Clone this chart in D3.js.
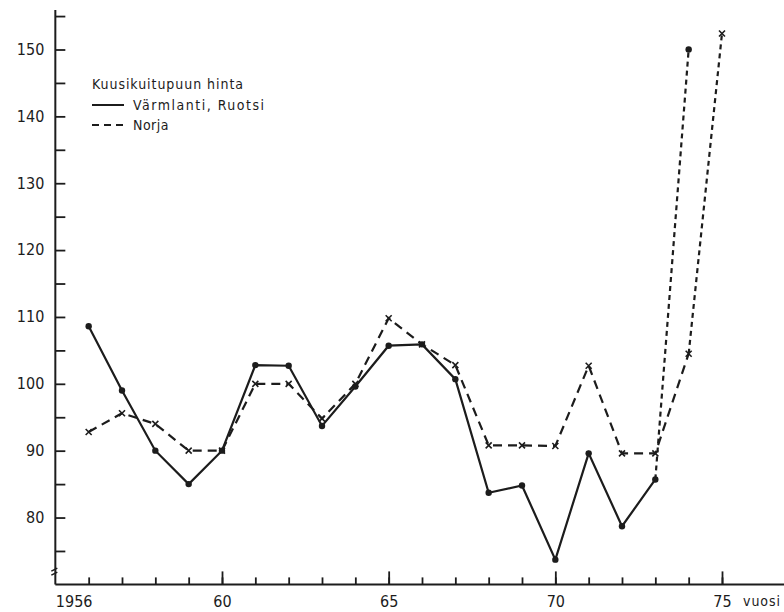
<!DOCTYPE html>
<html>
<head>
<meta charset="utf-8">
<script src="https://cdn.jsdelivr.net/npm/d3@7"></script>
<style>
  body { margin: 0; background: #fff; }
  svg text { font-family: "DejaVu Sans Condensed", "Liberation Sans Narrow", "Roboto Condensed", sans-serif; fill: #1c1c1c; }
</style>
</head>
<body>
<svg id="chart" width="784" height="612"></svg>
<script>
// Kuusikuitupuun hinta, 1956 = vuosi
const years = d3.range(1956, 1976);
const sweden = [108.6, 99, 90, 85, 90, 102.8, 102.7, 93.7, 99.6, 105.7, 105.9, 100.7, 83.7, 84.8, 73.7, 89.6, 78.7, 85.7, 150];
const norway = [92.8, 95.6, 94, 90, 90, 100, 100, 94.8, 100, 109.8, 105.9, 102.8, 90.8, 90.8, 90.7, 102.7, 89.6, 89.6, 104.5, 152.4];
const swedenEstimateFrom = 1973;   // viimeinen väli arvio
const norwayEstimateFrom = 1974;
const yTicks = d3.range(75, 156, 5);
const yLabels = [80, 90, 100, 110, 120, 130, 140, 150];
const xMajor = [1960, 1965, 1970, 1975];
const xLabels = ["1956", "60", "65", "70", "75"];
const legendTitle = "Kuusikuitupuun hinta";
const seriesNames = ["Värmlanti, Ruotsi", "Norja"];

const ink = "#1c1c1c";
const svg = d3.select("#chart");

const x = d3.scaleLinear().domain([1960, 1975]).range([222, 722]);
const y = d3.scaleLinear().domain([70, 150]).range([584.4, 49.5]);

// y-akseli
svg.append("line")
    .attr("x1", x(1955)).attr("x2", x(1955))
    .attr("y1", y(155) - 6).attr("y2", y(70))
    .attr("stroke", ink).attr("stroke-width", 2);

const yAxis = svg.append("g")
    .attr("transform", `translate(${x(1955)},0)`)
    .call(d3.axisLeft(y).tickValues(yTicks).tickSize(-10).tickPadding(11)
        .tickFormat(d => yLabels.includes(d) ? d : ""));
yAxis.select(".domain").remove();
yAxis.selectAll("line").attr("stroke", ink).attr("stroke-width", 1.8);
yAxis.selectAll("text").style("font-size", "16px").attr("dy", "0.3em");

// katkos
[0, 1].forEach(i => {
    svg.append("line")
        .attr("x1", x(1955) - 4).attr("x2", x(1955) + 2)
        .attr("y1", y(72.2) + i * 4 + 1.5).attr("y2", y(72.2) + i * 4 - 1.5)
        .attr("stroke", ink).attr("stroke-width", 1.5);
});

// x-akseli
svg.append("line")
    .attr("x1", x(1955)).attr("x2", 784)
    .attr("y1", y(70)).attr("y2", y(70))
    .attr("stroke", ink).attr("stroke-width", 2);

const xMinor = svg.append("g")
    .attr("transform", `translate(0,${y(70)})`)
    .call(d3.axisBottom(x).tickValues(years).tickSize(-7).tickFormat(""));
xMinor.select(".domain").remove();
xMinor.selectAll("line").attr("stroke", ink).attr("stroke-width", 1.8);

const xMaj = svg.append("g")
    .attr("transform", `translate(0,${y(70)})`)
    .call(d3.axisBottom(x).tickValues(xMajor).tickSize(-13).tickFormat(""));
xMaj.select(".domain").remove();
xMaj.selectAll("line").attr("stroke", ink).attr("stroke-width", 1.8);

const xLab = svg.append("g")
    .attr("transform", `translate(0,${y(70)})`)
    .call(d3.axisBottom(x).tickValues([1956, ...xMajor]).tickSize(0).tickPadding(11)
        .tickFormat((d, i) => xLabels[i]));
xLab.select(".domain").remove();
xLab.selectAll("text").style("font-size", "16px")
    .attr("dx", (d, i) => i === 0 ? -15 : 0);

svg.append("text")
    .attr("x", x(1975) + 21).attr("y", y(70) + 22)
    .style("font-size", "14px")
    .attr("textLength", 37).attr("lengthAdjust", "spacing")
    .text("vuosi");

// sarjat
const sw = years.slice(0, sweden.length).map((yr, i) => ({ yr, v: sweden[i] }));
const no = years.map((yr, i) => ({ yr, v: norway[i] }));

const line = d3.line().x(d => x(d.yr)).y(d => y(d.v));

svg.append("path")
    .datum(sw.filter(d => d.yr <= swedenEstimateFrom))
    .attr("fill", "none").attr("stroke", ink).attr("stroke-width", 2.2)
    .attr("d", line);
svg.append("path")
    .datum(sw.filter(d => d.yr >= swedenEstimateFrom))
    .attr("fill", "none").attr("stroke", ink).attr("stroke-width", 2.2)
    .attr("stroke-dasharray", "5,4").attr("d", line);

svg.append("path")
    .datum(no.filter(d => d.yr <= norwayEstimateFrom))
    .attr("fill", "none").attr("stroke", ink).attr("stroke-width", 2.2)
    .attr("stroke-dasharray", "9,6").attr("d", line);
svg.append("path")
    .datum(no.filter(d => d.yr >= norwayEstimateFrom))
    .attr("fill", "none").attr("stroke", ink).attr("stroke-width", 2.2)
    .attr("stroke-dasharray", "5,4").attr("d", line);

svg.selectAll(".dot")
    .data(sw)
    .enter()
    .append("circle")
    .attr("class", "dot")
    .attr("cx", d => x(d.yr))
    .attr("cy", d => y(d.v))
    .attr("r", 3.2)
    .attr("fill", ink);

svg.selectAll(".cross")
    .data(no)
    .enter()
    .append("path")
    .attr("class", "cross")
    .attr("transform", d => `translate(${x(d.yr)},${y(d.v)})`)
    .attr("d", "M-3,-3L3,3M-3,3L3,-3")
    .attr("stroke", ink).attr("stroke-width", 1.6);

// selite
const lg = svg.append("g").attr("transform", "translate(92,89)");
lg.append("text").attr("x", 0).attr("y", 0)
    .style("font-size", "14px")
    .attr("textLength", 151).attr("lengthAdjust", "spacing")
    .text(legendTitle);
lg.append("line").attr("x1", 0).attr("x2", 32).attr("y1", 16).attr("y2", 16)
    .attr("stroke", ink).attr("stroke-width", 2);
lg.append("text").attr("x", 41).attr("y", 21)
    .style("font-size", "14px")
    .attr("textLength", 131).attr("lengthAdjust", "spacing")
    .text(seriesNames[0]);
lg.append("line").attr("x1", 0).attr("x2", 32).attr("y1", 36).attr("y2", 36)
    .attr("stroke", ink).attr("stroke-width", 2).attr("stroke-dasharray", "7,5");
lg.append("text").attr("x", 41).attr("y", 41)
    .style("font-size", "14px").attr("letter-spacing", "0.5px")
    .text(seriesNames[1]);
</script>
</body>
</html>
